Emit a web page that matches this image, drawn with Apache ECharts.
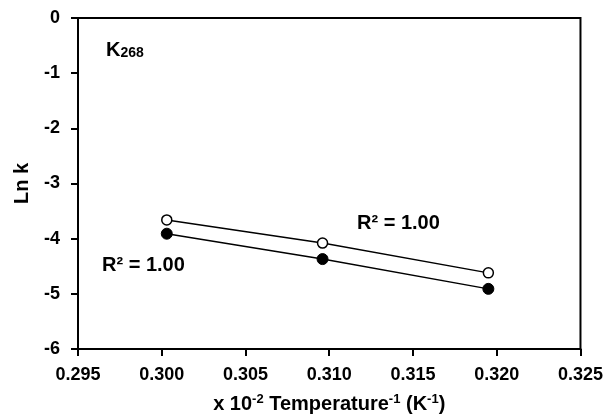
<!DOCTYPE html>
<html>
<head>
<meta charset="utf-8">
<script src="https://cdn.jsdelivr.net/npm/echarts@6/dist/echarts.min.js"></script>
<style>
html,body{margin:0;padding:0;background:#fff;}
#chart{width:606px;height:419px;}
</style>
</head>
<body>
<div id="chart"></div>
<script>
// Inverse temperature (x 10^-2 K^-1)
const invTemp = [0.3003, 0.3096, 0.3195];
// Ln k, open markers
const lnkOpen = [-3.66, -4.08, -4.62];
// Ln k, filled markers
const lnkFilled = [-3.91, -4.37, -4.91];
const xTicks = [0.295, 0.300, 0.305, 0.310, 0.315, 0.320, 0.325];
const yTicks = [-6, -5, -4, -3, -2, -1, 0];

const FONT = '"Liberation Sans", Arial, sans-serif';
const chart = echarts.init(document.getElementById('chart'), null, {renderer: 'canvas'});

const pairs = (xs, ys) => xs.map((x, i) => [x, ys[i]]);

chart.setOption({
  animation: false,
  backgroundColor: '#fff',
  grid: {left: 78, top: 18, right: 25, bottom: 70, show: true, borderColor: '#000', borderWidth: 2, backgroundColor: 'transparent'},
  xAxis: {
    type: 'value', min: xTicks[0], max: xTicks[xTicks.length - 1], interval: 0.005,
    axisLine: {show: true, onZero: false, lineStyle: {color: '#000', width: 2}},
    axisTick: {show: true, inside: false, length: 7, lineStyle: {color: '#000', width: 2}},
    splitLine: {show: false},
    axisLabel: {color: '#000', fontFamily: FONT, fontWeight: 'bold', fontSize: 18, margin: 17,
      formatter: v => v.toFixed(3)},
    name: '{a|x 10}{s|-2}{a| Temperature}{s|-1}{a| (K}{s|-1}{a|)}',
    nameLocation: 'middle', nameGap: 44,
    nameTextStyle: {rich: {
      a: {fontFamily: FONT, fontWeight: 'bold', fontSize: 20, color: '#000'},
      s: {fontFamily: FONT, fontWeight: 'bold', fontSize: 13, color: '#000', verticalAlign: 'top', padding: [0, 0, 9, 0]}
    }}
  },
  yAxis: {
    type: 'value', min: -6, max: 0, interval: 1,
    axisLine: {show: true, onZero: false, lineStyle: {color: '#000', width: 2}},
    axisTick: {show: true, inside: false, length: 7, lineStyle: {color: '#000', width: 2}},
    splitLine: {show: false},
    axisLabel: {color: '#000', fontFamily: FONT, fontWeight: 'bold', fontSize: 18, margin: 18},
    name: 'Ln k', nameLocation: 'middle', nameGap: 46,
    nameTextStyle: {color: '#000', fontFamily: FONT, fontWeight: 'bold', fontSize: 20}
  },
  series: [
    {
      type: 'line', data: pairs(invTemp, lnkOpen),
      symbol: 'circle', symbolSize: 10,
      itemStyle: {color: '#fff', borderColor: '#000', borderWidth: 1.5},
      lineStyle: {color: '#000', width: 1.5}, z: 3
    },
    {
      type: 'line', data: pairs(invTemp, lnkFilled),
      symbol: 'circle', symbolSize: 11,
      itemStyle: {color: '#000', borderColor: '#000', borderWidth: 1},
      lineStyle: {color: '#000', width: 1.5}, z: 3
    }
  ],
  graphic: [
    {type: 'text', left: 106, top: 40, style: {
      text: '{k|K}{n|268}', rich: {
        k: {fontFamily: FONT, fontWeight: 'bold', fontSize: 20, fill: '#000'},
        n: {fontFamily: FONT, fontWeight: 'bold', fontSize: 14, fill: '#000', verticalAlign: 'bottom', padding: [7, 0, 0, 0]}
      }}},
    {type: 'text', left: 357, top: 213, style: {text: 'R² = 1.00', fontFamily: FONT, fontWeight: 'bold', fontSize: 20, fill: '#000'}},
    {type: 'text', left: 102, top: 255, style: {text: 'R² = 1.00', fontFamily: FONT, fontWeight: 'bold', fontSize: 20, fill: '#000'}}
  ]
});
</script>
</body>
</html>
